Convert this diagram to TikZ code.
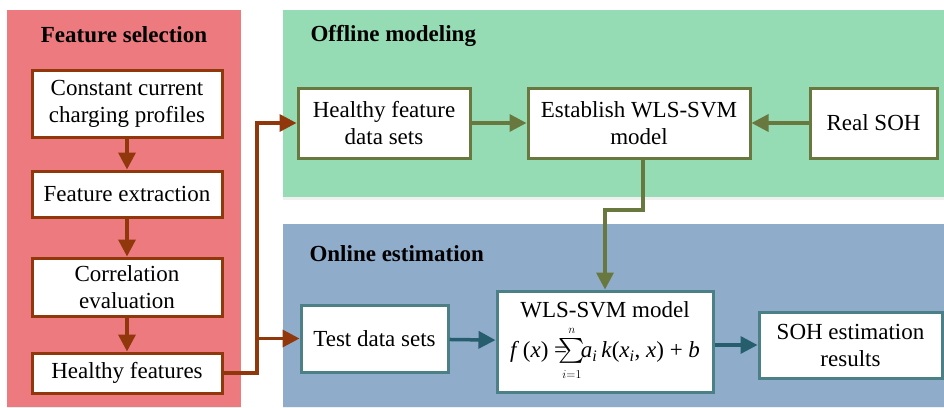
\documentclass[tikz,border=0pt]{standalone}
\usepackage{amsmath}
\usepackage{fontspec}
\setmainfont{Liberation Serif}
\usetikzlibrary{arrows.meta,shadows}
\definecolor{redpanel}{RGB}{236,122,126}
\definecolor{greenpanel}{RGB}{149,220,180}
\definecolor{bluepanel}{RGB}{143,172,202}
\definecolor{brownc}{RGB}{145,55,12}
\definecolor{olivec}{RGB}{105,120,62}
\definecolor{tealc}{RGB}{75,128,135}
\definecolor{tealarrow}{RGB}{38,94,110}
\tikzset{
  panel/.style={draw=none, drop shadow={opacity=0.12, shadow xshift=0pt, shadow yshift=-3pt}},
  boxbase/.style={draw, line width=3pt, fill=white, align=center, inner sep=0pt,
    font=\fontsize{23}{27}\selectfont,
    drop shadow={opacity=0.18, shadow xshift=1.5pt, shadow yshift=-1.5pt}},
  redbox/.style={boxbase, draw=brownc},
  greenbox/.style={boxbase, draw=olivec},
  bluebox/.style={boxbase, draw=tealc},
  title/.style={font=\fontsize{23}{27}\selectfont\bfseries},
  conn/.style={line width=3.5pt, -{Triangle[length=17pt,width=17pt]}},
}
\begin{document}
\begin{tikzpicture}[x=1pt,y=-1pt]
\useasboundingbox (0,0) rectangle (944,407);
% panels
\fill[redpanel, panel] (7,10) rectangle (241,407);
\fill[greenpanel, panel] (283,10) rectangle (944,197);
\fill[bluepanel, panel] (283,224) rectangle (944,407);
% titles
\node[title] (t1) at (124,35) {Feature selection};
\node[title, anchor=west] (t2) at (307,36) {Offline modeling};
\node[title, anchor=west] (t3) at (306,254) {Online estimation};
% feature selection boxes
\node[redbox, minimum width=190pt, minimum height=67pt] (ccp) at (127,103.5) {Constant current\\charging profiles};
\node[redbox, minimum width=190pt, minimum height=46pt] (fe) at (127,194) {Feature extraction};
\node[redbox, minimum width=190pt, minimum height=58pt] (ce) at (127,287) {Correlation\\evaluation};
\node[redbox, minimum width=190pt, minimum height=40pt] (hf) at (127,373) {Healthy features};
% offline boxes
\node[greenbox, minimum width=172pt, minimum height=70pt] (hfd) at (384,123) {Healthy feature\\data sets};
\node[greenbox, minimum width=222pt, minimum height=70pt] (est) at (639,123) {Establish WLS-SVM\\model};
\node[greenbox, minimum width=127pt, minimum height=70pt] (real) at (873.5,123) {Real SOH};
% online boxes
\node[bluebox, minimum width=216pt, minimum height=101pt] (wls) at (605,341.5) {WLS-SVM model\\[7pt]
  \textit{f}\,(\textit{x}) =$\!\!\sum\limits_{\scriptscriptstyle i=1}^{\scriptscriptstyle n}\!$\textit{a}$_{\textit{i}}$\,\textit{k}(\textit{x}$_{\textit{i}}$, \textit{x}) + \textit{b}};
\node[bluebox, minimum width=147pt, minimum height=67pt] (test) at (374.5,338.5) {Test data sets};
\node[bluebox, minimum width=183pt, minimum height=66pt] (soh) at (850.5,345) {SOH estimation\\results};
% feature selection arrows
\draw[conn, draw=brownc] (ccp) -- (fe);
\draw[conn, draw=brownc] (fe) -- (ce);
\draw[conn, draw=brownc] (ce) -- (hf);
% brown connector
\coordinate (j) at (257,373);
\draw[conn, draw=brownc] (hf.east) -- (j) |- (hfd.west);
\draw[conn, draw=brownc] (j |- test.west) -- (test.west);
% offline arrows
\draw[conn, draw=olivec] (hfd) -- (est);
\draw[conn, draw=olivec] (real) -- (est);
\coordinate (g1) at (643,210);
\draw[conn, draw=olivec] (est.south -| g1) -- (g1) -| (wls.north);
% online arrows
\draw[conn, draw=tealarrow] (test) -- (wls);
\draw[conn, draw=tealarrow] (wls.east |- soh.west) -- (soh.west);
\end{tikzpicture}
\end{document}
